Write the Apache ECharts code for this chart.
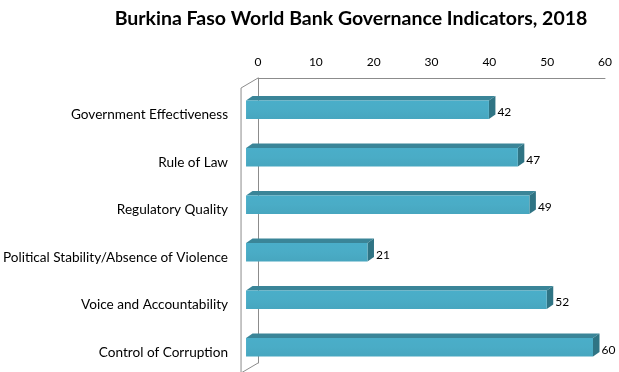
<!DOCTYPE html>
<html><head><meta charset="utf-8">
<script src="https://cdn.jsdelivr.net/npm/echarts@6/dist/echarts.min.js"></script>
<style>html,body{margin:0;padding:0;background:#fff}#c{width:619px;height:372px}</style>
</head><body><div id="c"></div>
<script>
const title = 'Burkina Faso World Bank Governance Indicators, 2018';
const categories = ['Government Effectiveness','Rule of Law','Regulatory Quality','Political Stability/Absence of Violence','Voice and Accountability','Control of Corruption'];
const values = [42, 47, 49, 21, 52, 60];
const axisMin = 0, axisMax = 60, axisStep = 10;

const FONT = 'Lato';
const DX = -12, DY = 8;       // front face offset from back wall
const DDX = 6.5, DDY = -4.5;  // bar depth

const chart = echarts.init(document.getElementById('c'));

function renderItem(params, api) {
  const idx = api.value(1);
  const v = api.value(0);
  const p0 = api.coord([axisMin, idx]);
  const p1 = api.coord([v, idx]);
  const band = api.size([0, 1])[1];
  const h = band * 0.39;
  const x0 = p0[0] + DX, x1 = p1[0] + DX;
  const yc = p0[1] + DY;
  const top = yc - h / 2;
  return {
    type: 'group',
    children: [
      { type: 'polygon', shape: { points: [[x0, top], [x0 + DDX, top + DDY], [x1 + DDX, top + DDY], [x1, top]] },
        style: { fill: '#3a8598' } },
      { type: 'polygon', shape: { points: [[x1, top], [x1 + DDX, top + DDY], [x1 + DDX, top + h + DDY], [x1, top + h]] },
        style: { fill: '#2f7484' } },
      { type: 'rect', shape: { x: x0, y: top, width: x1 - x0, height: h },
        style: { fill: new echarts.graphic.LinearGradient(0, 0, 0, 1, [
          { offset: 0, color: '#4aaec9' }, { offset: 0.5, color: '#4aacc6' }, { offset: 1, color: '#47a6bf' }]) } },
      { type: 'text', x: x1 + DDX + 2, y: yc + 2.5,
        style: { text: String(v), fill: '#000', font: '12px ' + FONT, align: 'left', verticalAlign: 'middle' } }
    ]
  };
}

chart.setOption({
  animation: false,
  title: { text: title, left: 346, top: 4, textAlign: 'center',
    textStyle: { fontFamily: FONT, fontWeight: 'bold', fontSize: 19.5, color: '#000' } },
  grid: { left: 258, right: 14, top: 78, bottom: 9, containLabel: false },
  xAxis: { type: 'value', position: 'top', min: axisMin, max: axisMax, interval: axisStep,
    axisLine: { show: true, lineStyle: { color: '#8c8c8c', width: 1 } },
    axisTick: { show: false }, splitLine: { show: false },
    axisLabel: { margin: 10, color: '#000', fontFamily: FONT, fontSize: 12 } },
  yAxis: { type: 'category', data: categories, inverse: true,
    axisLine: { show: true, lineStyle: { color: '#8c8c8c', width: 1 } },
    axisTick: { show: false }, splitLine: { show: false },
    axisLabel: { margin: 30, color: '#000', fontFamily: FONT, fontSize: 13.6, verticalAlign: 'top', padding: [6, 0, 0, 0] } },
  series: [{
    type: 'custom', renderItem: renderItem, encode: { x: 0, y: 1 },
    data: values.map((v, i) => [v, i])
  }]
});

// wall/floor decoration lines derived from the grid rectangle
const rect = chart.getModel().getComponent('grid').coordinateSystem.getRect();
const wx = -17, wy = 10;
const L = rect.x, T = rect.y, B = rect.y + rect.height;
chart.setOption({
  graphic: [
    { type: 'polyline', shape: { points: [[L, T], [L + wx, T + wy], [L + wx, B + wy]] }, style: { stroke: '#8c8c8c', lineWidth: 1, fill: null } },
    { type: 'line', shape: { x1: L, y1: B, x2: L + wx, y2: B + wy }, style: { stroke: '#8c8c8c', lineWidth: 1 } }
  ]
});
</script></body></html>
